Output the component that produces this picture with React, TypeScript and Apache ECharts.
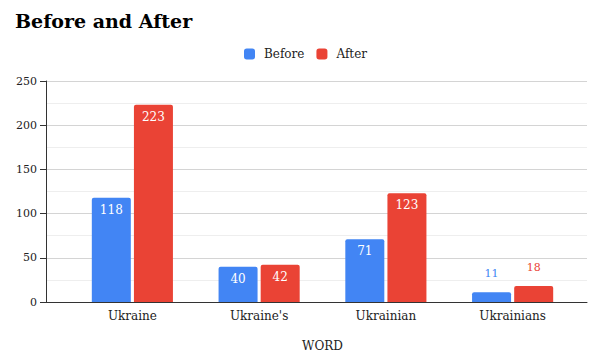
import React, { useEffect, useRef } from "react";
import * as echarts from "echarts";

const categories = ["Ukraine", "Ukraine's", "Ukrainian", "Ukrainians"];
const beforeValues = [118, 40, 71, 11];
const afterValues = [223, 42, 123, 18];
const yTicks = { min: 0, max: 250, interval: 50 };

const BLUE = "#4285F4";
const RED = "#EA4335";
const FONT = "DejaVu Serif";

// Short bars get their value drawn above the bar in the series colour.
function toData(values: number[], color: string) {
  return values.map((v) =>
    v < 25
      ? {
          value: v,
          label: { position: "top", distance: 13, color, fontSize: 11 },
        }
      : { value: v }
  );
}

export default function App() {
  const ref = useRef<HTMLDivElement>(null);

  useEffect(() => {
    if (!ref.current) return;
    const chart = echarts.init(ref.current, null, { renderer: "svg" });
    const barLabel = {
      show: true,
      position: "insideTop",
      distance: 6,
      color: "#ffffff",
      fontFamily: FONT,
      fontSize: 12,
    };
    chart.setOption({
      animation: false,
      backgroundColor: "#ffffff",
      textStyle: { fontFamily: FONT },
      title: {
        text: "Before and After",
        left: 10,
        top: 6,
        textStyle: { fontFamily: FONT, fontSize: 19, fontWeight: "bold", color: "#000" },
      },
      legend: {
        top: 43,
        left: 239,
        itemWidth: 11,
        itemHeight: 11,
        itemGap: 12,
        icon: "roundRect",
        textStyle: { fontFamily: FONT, fontSize: 12, color: "#222", padding: [0, 0, 0, 4] },
        data: ["Before", "After"],
      },
      grid: [
        { left: 46, right: 2, top: 81, bottom: 51, outerBoundsMode: "none" },
        { left: 69, right: 13, top: 81, bottom: 51, outerBoundsMode: "none" },
      ],
      xAxis: [
        {
          gridIndex: 0,
          type: "value",
          min: 0,
          max: 1,
          axisLine: { show: true, lineStyle: { color: "#333", width: 1 } },
          axisTick: { show: false },
          axisLabel: { show: false },
          splitLine: { show: false },
        },
        {
          gridIndex: 1,
          type: "category",
          data: categories,
          axisLine: { show: false },
          axisTick: { show: false },
          axisLabel: { fontFamily: FONT, fontSize: 12, color: "#222", margin: 8 },
          name: "WORD",
          nameLocation: "middle",
          nameGap: 38,
          nameTextStyle: { fontFamily: FONT, fontSize: 12, color: "#222" },
        },
      ],
      yAxis: [
        {
          gridIndex: 0,
          type: "value",
          min: yTicks.min,
          max: yTicks.max,
          interval: yTicks.interval,
          axisLine: { show: true, lineStyle: { color: "#333", width: 1 } },
          axisTick: { show: true, length: 6, lineStyle: { color: "#333" } },
          axisLabel: { fontFamily: FONT, fontSize: 11, color: "#222", margin: 9 },
          splitLine: { show: true, lineStyle: { color: "#d4d4d4" } },
          minorTick: { show: false, splitNumber: 2 },
          minorSplitLine: { show: true, lineStyle: { color: "#eeeeee" } },
        },
        {
          gridIndex: 1,
          type: "value",
          min: yTicks.min,
          max: yTicks.max,
          interval: yTicks.interval,
          show: false,
          splitLine: { show: false },
        },
      ],
      series: [
        {
          name: "Before",
          type: "bar",
          xAxisIndex: 1,
          yAxisIndex: 1,
          barWidth: 39,
          barGap: "8%",
          itemStyle: { color: BLUE, borderRadius: [2, 2, 0, 0] },
          label: barLabel,
          data: toData(beforeValues, BLUE),
        },
        {
          name: "After",
          type: "bar",
          xAxisIndex: 1,
          yAxisIndex: 1,
          barWidth: 39,
          barGap: "8%",
          itemStyle: { color: RED, borderRadius: [2, 2, 0, 0] },
          label: barLabel,
          data: toData(afterValues, RED),
        },
      ],
    });
    return () => chart.dispose();
  }, []);

  return (
    <div
      ref={ref}
      style={{ position: "fixed", left: 0, top: 0, width: 589, height: 353 }}
    />
  );
}
